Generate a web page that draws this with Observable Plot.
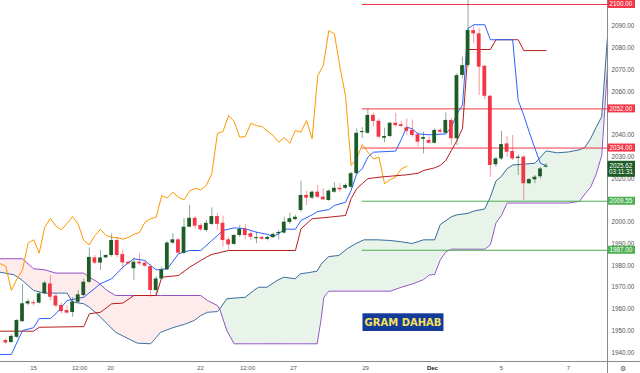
<!DOCTYPE html>
<html>
<head>
<meta charset="utf-8">
<script src="https://cdn.jsdelivr.net/npm/d3@7"></script>
<script src="https://cdn.jsdelivr.net/npm/@observablehq/plot@0.6"></script>
<style>
html,body{margin:0;padding:0;background:#fff;}
#chart svg{display:block;}
</style>
</head>
<body>
<div id="chart"></div>
<script>
// ---- 4h candles (bar index = array index) ----
const candleOpen = [1945.5,1944.6,1947.0,1954.2,1962.3,1962.9,1962.7,1967.0,1971.5,1965.9,1961.6,1959.3,1958.4,1963.1,1966.2,1972.3,1983.5,1981.1,1983.5,1984.6,1991.5,1985.0,1981.5,1978.5,1981.5,1981.1,1979.5,1968.5,1973.8,1978.0,1990.3,1991.8,1985.7,1997.6,2001.7,1998.4,1996.1,1998.9,2002.5,1999.4,1991.8,1989.7,1993.8,1996.6,1994.6,1992.3,1992.9,1992.0,1992.8,1994.6,1994.9,1999.8,2001.1,2005.3,2012.2,2011.0,2013.7,2011.4,2009.9,2013.7,2015.5,2015.5,2016.0,2022.2,2041.1,2040.8,2049.0,2046.3,2038.5,2039.3,2045.4,2044.7,2043.3,2042.1,2040.1,2038.0,2037.5,2036.2,2042.1,2040.8,2046.7,2038.3,2067.4,2072.0,2088.0,2086.5,2071.6,2057.8,2026.3,2029.0,2035.9,2032.4,2029.2,2029.8,2017.6,2019.4,2020.8,2025.2];
const candleHigh = [1946.4,1948.1,1955.2,1971.3,1964.6,1963.9,1967.6,1972.7,1975.4,1967.3,1962.7,1961.6,1965.3,1968.5,1973.8,1988.0,1984.6,1986.9,1985.0,1994.6,1992.9,1986.9,1982.0,1983.5,1985.4,1981.8,1980.4,1974.9,1979.2,1991.0,1994.6,1992.4,2001.6,2007.6,2002.5,1999.3,2000.7,2006.5,2003.8,2002.7,1993.0,1994.3,1998.4,1998.9,1995.5,1995.3,1993.5,1993.5,1994.9,1996.1,2002.2,2004.0,2003.0,2018.8,2014.2,2014.2,2016.8,2015.3,2014.8,2018.0,2017.6,2017.6,2022.8,2042.8,2043.4,2052.0,2050.0,2047.4,2043.1,2045.9,2050.0,2046.3,2047.4,2046.9,2041.3,2041.3,2039.0,2042.8,2043.0,2050.2,2047.6,2068.3,2075.8,2147.0,2090.3,2088.8,2071.9,2058.2,2029.8,2041.6,2039.3,2039.8,2030.9,2030.6,2020.0,2021.4,2025.2,2026.8];
const candleLow = [1943.7,1944.2,1946.4,1953.8,1961.6,1961.4,1962.3,1966.7,1963.7,1960.4,1957.7,1957.7,1956.2,1962.8,1965.7,1971.7,1980.4,1977.7,1983.2,1983.8,1983.5,1978.0,1980.3,1973.1,1980.0,1979.1,1965.4,1966.2,1973.5,1977.7,1989.7,1985.0,1985.0,1997.5,1996.9,1995.6,1995.2,1998.4,1996.1,1988.4,1986.9,1989.2,1992.9,1991.8,1991.5,1990.0,1991.5,1991.3,1992.4,1991.8,1994.6,1998.9,2000.7,2004.5,2007.6,2010.3,2010.7,2009.9,2009.6,2013.2,2013.7,2014.8,2015.4,2021.8,2038.4,2040.2,2043.6,2038.3,2036.4,2038.8,2043.6,2043.6,2039.8,2039.0,2034.4,2031.3,2035.9,2035.9,2040.6,2040.5,2035.2,2035.2,2065.8,2071.2,2082.0,2058.2,2056.3,2020.6,2025.2,2028.3,2029.8,2028.3,2021.4,2009.9,2017.2,2017.6,2019.8,2024.9];
const candleClose = [1944.4,1947.4,1954.7,1962.4,1963.4,1962.5,1967.0,1971.9,1965.4,1961.4,1958.8,1958.1,1963.2,1966.5,1972.3,1983.7,1981.1,1983.5,1984.6,1991.5,1984.6,1981.2,1980.8,1981.5,1980.8,1979.7,1968.5,1973.8,1978.0,1990.3,1991.8,1985.7,1997.6,2001.7,1998.1,1996.4,1999.4,2002.5,1998.9,1991.5,1989.5,1993.8,1996.6,1993.8,1993.0,1992.8,1992.1,1992.9,1994.3,1995.2,1999.9,2001.5,2002.2,2012.2,2011.0,2013.7,2011.4,2010.2,2014.2,2015.5,2014.8,2016.8,2022.2,2040.8,2041.6,2049.0,2046.2,2039.0,2039.3,2045.4,2044.3,2043.9,2041.7,2039.8,2036.7,2038.8,2036.2,2042.1,2041.3,2046.7,2038.3,2067.3,2071.9,2088.0,2086.5,2071.2,2057.8,2026.0,2029.0,2035.6,2032.1,2029.0,2029.8,2017.6,2019.5,2020.6,2024.4,2025.62];

// ---- Ichimoku lines: [bar, price] vertices ----
const tenkan = [[-1,1939.1],[1,1939.1],[3,1950.1],[5,1951.4],[6,1955.6],[8,1955.6],[9,1957.8],[11,1963.9],[14,1965.4],[17,1971.6],[19,1973.9],[21,1979.2],[23,1983.1],[25,1982.3],[26,1980.0],[27,1978.0],[29,1978.5],[31,1985.4],[33,1986.9],[35,1986.9],[37,1991.5],[39,1996.1],[41,1997.3],[43,1996.9],[45,1995.3],[47,1994.3],[48,1993.3],[49,1994.6],[50,1996.7],[52,1996.7],[53,2000.7],[55,2003.3],[56,2004.8],[58,2005.7],[59,2007.6],[61,2009.1],[62,2014.5],[63,2022.2],[64,2024.5],[65,2029.8],[66,2032.1],[70,2032.6],[71,2038.0],[72,2043.6],[73,2042.8],[74,2040.5],[76,2040.1],[79,2040.5],[80,2043.6],[81,2049.7],[82,2053.8],[83,2089.0],[84,2090.7],[86,2090.7],[87,2083.8],[91,2083.8],[92,2055.9],[93,2049.0],[94,2041.2],[95,2033.8],[96,2026.9],[97,2026.0]];
const kijun = [[-1,1949.8],[5,1949.8],[6,1951.6],[14,1951.9],[15,1957.8],[17,1958.5],[19,1962.4],[21,1962.7],[23,1966.2],[27,1966.2],[28,1974.6],[31,1975.4],[33,1979.2],[35,1982.3],[36,1983.8],[37,1985.1],[40,1986.9],[52,1986.9],[53,1996.9],[55,2001.5],[58,2002.2],[61,2003.0],[62,2010.7],[63,2015.3],[64,2017.6],[65,2019.9],[67,2020.6],[72,2021.7],[74,2022.4],[75,2023.7],[77,2024.9],[78,2026.0],[79,2028.3],[80,2032.9],[81,2037.5],[82,2043.0],[83,2079.3],[87,2079.3],[88,2083.8],[92,2083.8],[93,2078.8],[97,2078.8]];
const spanBar = [-1,1.5,3,5,7,9,11,12,14,15,16.4,18.2,19.7,23.6,26,27.8,30.2,32,33.8,35,36.2,38,38.4,39.7,41,43,44.5,45.4,46.9,48.7,49.9,52,52.9,54.1,55.9,56.6,57.1,58,59.8,61.3,62.8,64.3,66.7,69,71,73,75,76,77,78,79,80,81,83,84,86,87,88,89,90,91,95,96,97,99,101,103,104,105,106,107,108];
const spanA = [1976.9,1975.7,1973.1,1968.5,1967.3,1967.3,1967.3,1963.2,1962.4,1960.8,1957.8,1953.2,1949.3,1944.3,1944.0,1949.3,1951.6,1952.9,1954.7,1957.0,1958.5,1958.8,1960.0,1964.7,1965.0,1965.4,1968.5,1970.0,1970.0,1973.1,1974.6,1973.9,1976.2,1976.6,1977.4,1980.5,1982.0,1984.1,1984.6,1987.7,1990.0,1991.8,1991.8,1991.5,1990.9,1990.1,1991.8,1991.8,1991.8,1998.8,2000.6,2002.4,2003.3,2004.0,2005.0,2006.0,2011.5,2018.8,2021.0,2024.5,2026.2,2027.0,2029.8,2032.7,2031.8,2032.2,2033.2,2034.4,2038.3,2043.6,2048.4,2084.2];
const spanB = [1983.1,1983.1,1983.1,1978.5,1978.0,1976.5,1976.5,1976.5,1976.5,1974.6,1972.5,1968.5,1966.2,1966.2,1966.2,1966.2,1966.2,1966.2,1966.2,1966.2,1963.9,1961.6,1960.0,1950.0,1944.0,1944.0,1944.0,1944.0,1944.0,1944.0,1944.0,1944.0,1944.0,1944.0,1944.0,1955.0,1965.4,1968.2,1968.2,1968.2,1968.2,1968.2,1968.2,1968.2,1970.0,1971.5,1973.5,1975.6,1975.9,1982.6,1986.3,1987.5,1987.5,1987.5,1987.5,1987.5,1989.5,1999.5,2003.1,2008.7,2008.7,2008.7,2008.7,2008.7,2008.7,2008.7,2009.5,2013.0,2016.0,2022.0,2030.6,2070.0];
const cloudCross = 38.4;
const chikouShift = 25;

// ---- horizontal levels ----
const levelPrice = [2100, 2052, 2034, 2009.55, 1987];
const levelType = ["res", "res", "res", "sup", "sup"];
const levelFromBar = 64;
const lastPrice = 2025.62;
const countdown = "03:11:31";

// ---- axis ticks ----
const yTicks = [1940,1950,1960,1970,1980,1990,2000,2020,2030,2040,2060,2070,2080,2090];
const xTickBar = [4.97, 13.23, 18.8, 34.96, 43.4, 51.65, 64.6, 76.6, 89.0, 101.0];
const xTickLabel = ["15","12:00","20","22","12:00","27","29","Dec","5","7"];

const noteText = "GRAM DAHAB";
const noteBar = 71.4, notePrice = 1953.7;

// ---- build tables ----
const candles = candleOpen.map((o, i) => ({i, o, h: candleHigh[i], l: candleLow[i], c: candleClose[i], up: candleClose[i] >= o}));
const spans = spanBar.map((k, j) => ({k, a: spanA[j], b: spanB[j]}));
const tk = tenkan.map(([k, v]) => ({k, v}));
const kj = kijun.map(([k, v]) => ({k, v}));
const levels = levelPrice.map((v, j) => ({v, t: levelType[j]}));
const xTicks = xTickBar.map((b, j) => ({b, label: xTickLabel[j]}));

const UP = "#1d5c26", DOWN = "#f23645";
const xDomain = [-0.95, 108.03];

const chart = Plot.plot({
  width: 640, height: 373,
  marginLeft: 0, marginRight: 33, marginTop: 0, marginBottom: 12,
  x: {domain: xDomain, axis: null},
  y: {domain: [1935.86, 2101.84], axis: null},
  style: {background: "#fff", fontFamily: "Liberation Sans, Arial, sans-serif", overflow: "visible"},
  marks: [
    // cloud
    Plot.areaY(spans.filter(d => d.k <= cloudCross), {x: "k", y1: "a", y2: "b", fill: "#f23645", fillOpacity: 0.1, clip: true}),
    Plot.areaY(spans.filter(d => d.k >= cloudCross), {x: "k", y1: "a", y2: "b", fill: "#43a047", fillOpacity: 0.12, clip: true}),
    Plot.line(spans, {x: "k", y: "a", stroke: "#3b6ea0", strokeWidth: 1, clip: true}),
    Plot.line(spans, {x: "k", y: "b", stroke: "#9156c4", strokeWidth: 1, clip: true}),
    // levels
    Plot.ruleY(levels, {y: "v", x1: levelFromBar, x2: xDomain[1], stroke: d => d.t === "res" ? "#f23645" : "#4caf50", strokeWidth: 1}),
    // chikou
    Plot.line(candles.filter(d => d.i >= chikouShift - 1), {x: d => d.i - chikouShift, y: "c", stroke: "#ff9800", strokeWidth: 1, clip: true}),
    // kijun / tenkan
    Plot.line(kj, {x: "k", y: "v", stroke: "#b71c1c", strokeWidth: 1, clip: true}),
    Plot.line(tk, {x: "k", y: "v", stroke: "#2962ff", strokeWidth: 1, clip: true}),
    // candles
    Plot.ruleX(candles, {x: "i", y1: "l", y2: "h", stroke: d => d.up ? UP : DOWN, strokeOpacity: 0.5, strokeWidth: 1, clip: true}),
    Plot.rect(candles, {
      x1: d => d.i - 0.34, x2: d => d.i + 0.34,
      y1: "o",
      y2: d => Math.abs(d.c - d.o) < 0.5 ? d.o + (d.up ? 0.5 : -0.5) : d.c,
      fill: d => d.up ? UP : DOWN, clip: true
    }),
    // price axis labels
    Plot.text(yTicks, {y: d => d, frameAnchor: "right", dx: 4, textAnchor: "start", text: d => d.toFixed(2), fill: "#555", fontSize: 6.3}),
    // time axis labels
    Plot.text(xTicks.filter(d => d.label !== "Dec"), {x: "b", frameAnchor: "bottom", dy: 8, text: "label", fill: "#555", fontSize: 6}),
    Plot.text(xTicks.filter(d => d.label === "Dec"), {x: "b", frameAnchor: "bottom", dy: 8, text: "label", fill: "#222", fontSize: 6, fontWeight: "bold"})
  ]
});
document.getElementById("chart").append(chart);

// ---- overlays positioned through the plot's scales ----
const xs = chart.scale("x"), ys = chart.scale("y");
const svg = d3.select(chart);
const xR = xs.apply(xDomain[1]);
const yB = ys.apply(1935.86);
const g = svg.append("g").attr("font-family", "Liberation Sans, Arial, sans-serif");

// axis border lines
g.append("line").attr("x1", xR + 0.5).attr("x2", xR + 0.5).attr("y1", 0).attr("y2", 373).attr("stroke", "#8a8a8a");
g.append("line").attr("x1", 0).attr("x2", 640).attr("y1", yB + 0.5).attr("y2", yB + 0.5).attr("stroke", "#8a8a8a");

// level price tags
levels.forEach(d => {
  const y = ys.apply(d.v);
  g.append("rect").attr("x", xR + 0.5).attr("y", y - 4).attr("width", 27.5).attr("height", 8)
    .attr("fill", d.t === "res" ? "#f23645" : "#4caf50");
  g.append("text").attr("x", xR + 14).attr("y", y).attr("dy", "0.35em").attr("text-anchor", "middle")
    .attr("font-size", 6.3).attr("fill", "#fff").text(d.v.toFixed(2));
});
// last price tag
{
  const y = ys.apply(lastPrice);
  g.append("rect").attr("x", xR + 0.5).attr("y", y - 5).attr("width", 27.5).attr("height", 16).attr("fill", UP);
  g.append("text").attr("x", xR + 14).attr("y", y).attr("dy", "0.35em").attr("text-anchor", "middle")
    .attr("font-size", 6.3).attr("fill", "#fff").text(lastPrice.toFixed(2));
  g.append("text").attr("x", xR + 14).attr("y", y + 6.5).attr("dy", "0.35em").attr("text-anchor", "middle")
    .attr("font-size", 6.3).attr("fill", "#fff").text(countdown);
}
// settings icon
g.append("text").attr("x", xR + 16).attr("y", yB + 7.5).attr("dy", "0.35em").attr("text-anchor", "middle")
  .attr("font-size", 7).attr("fill", "#555").text("⚙");

// note label
{
  const cx = xs.apply(noteBar), cy = ys.apply(notePrice);
  g.append("rect").attr("x", cx - 40.5).attr("y", cy - 8.9).attr("width", 81).attr("height", 17.7).attr("fill", "#143a9a");
  g.append("text").attr("x", cx).attr("y", cy).attr("dy", "0.36em").attr("text-anchor", "middle")
    .attr("font-family", "DejaVu Sans, sans-serif").attr("font-weight", "bold").attr("font-size", 10)
    .attr("fill", "#f7e15a").text(noteText);
}
</script>
</body>
</html>
